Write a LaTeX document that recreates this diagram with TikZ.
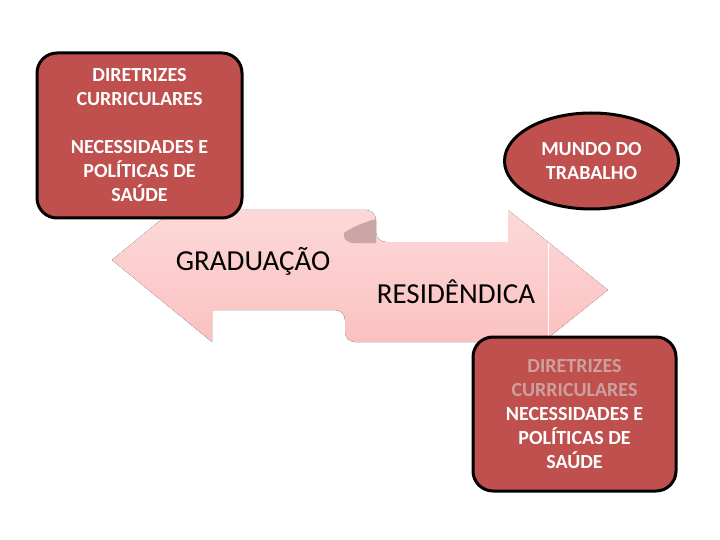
\documentclass[tikz,border=0pt]{standalone}
\usepackage{fontspec}
\setmainfont{Carlito}
\usetikzlibrary{shapes.geometric}
\definecolor{boxred}{RGB}{192,80,77}
\definecolor{ribtop}{RGB}{253,222,222}
\definecolor{ribbot}{RGB}{251,188,188}
\definecolor{curl}{RGB}{202,166,166}
\definecolor{fadedtxt}{RGB}{205,160,158}
\tikzset{
  redbox/.style={draw=black, line width=3pt, fill=boxred, rounded corners=20pt,
    text=white, align=center, inner sep=0pt,
    font=\fontsize{20}{24}\selectfont\bfseries},
  redoval/.style={draw=black, line width=3pt, fill=boxred},
  boxtext/.style={text=white, align=center, inner sep=0pt,
    font=\fontsize{20}{24}\selectfont\bfseries},
  ribtext/.style={text=black, inner sep=0pt, font=\fontsize{29}{34}\selectfont},
}
\begin{document}
\begin{tikzpicture}[x=1pt,y=-1pt]
\useasboundingbox (0,0) rectangle (720,540);
% ribbon
\fill[top color=ribtop, bottom color=ribbot]
  (112,260) -- (212,178) -- (212,210)
  [rounded corners=10pt] -- (376,210) -- (376,242) [sharp corners]
  -- (508,242) -- (508,210) -- (608,290) -- (508,370) -- (508,342)
  [rounded corners=10pt] -- (345,342) -- (345,310) [sharp corners]
  -- (212,310) -- (212,342) -- cycle;
\fill[curl] (376,243) -- (354,243) .. controls (346,243) and (343,238) .. (344,233)
  .. controls (352,227) and (365,222) .. (376,219) -- cycle;
\draw[white, line width=1pt] (548,243) -- (548,338);
\node[ribtext] (grad) at (253,261) {GRADUAÇÃO};
\node[ribtext] (res) at (456,292) {RESIDÊNDICA};
% boxes
\node[redbox, minimum width=205pt, minimum height=165pt] (dcg) at (139.5,135.5)
  {DIRETRIZES\\CURRICULARES\\[24pt]NECESSIDADES E\\POLÍTICAS DE\\SAÚDE};
\coordinate (mc) at (591.5,161);
\draw[redoval] (mc) ellipse [x radius=87pt, y radius=48pt];
\node[boxtext] (mundo) at (mc) {MUNDO DO\\TRABALHO};
\node[redbox, minimum width=203pt, minimum height=154pt] (dcr) at (574.5,414)
  {\textcolor{fadedtxt}{DIRETRIZES}\\\textcolor{fadedtxt}{CURRICULARES}\\NECESSIDADES E\\POLÍTICAS DE\\SAÚDE};
\end{tikzpicture}
\end{document}
